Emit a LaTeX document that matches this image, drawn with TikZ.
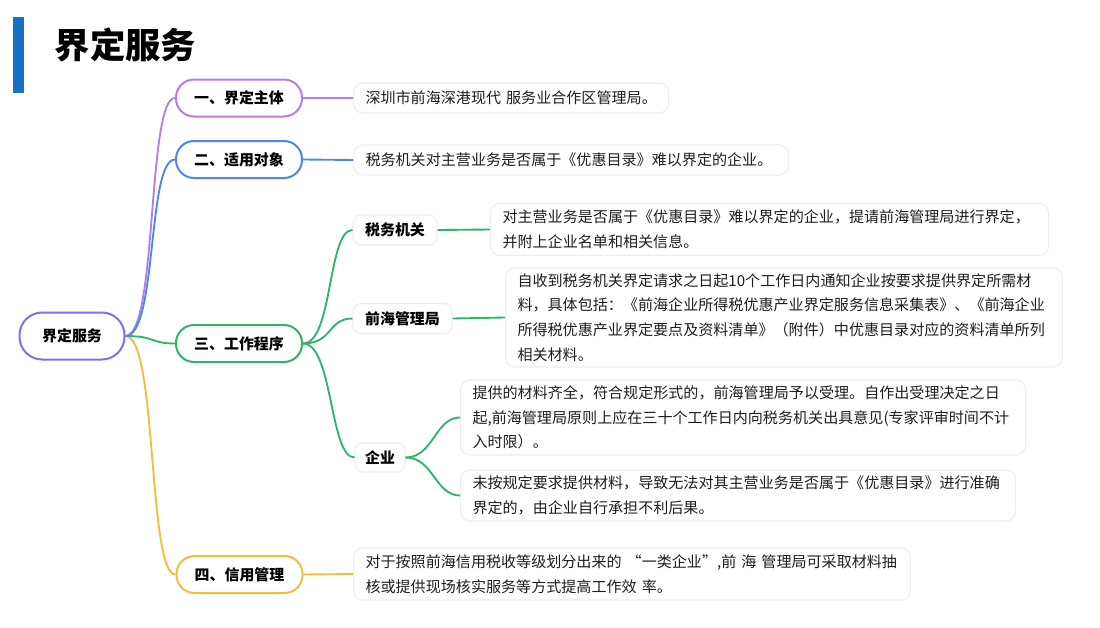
\documentclass[tikz,border=0pt]{standalone}
\usepackage{fontspec}
\setmainfont{Noto Sans CJK SC}
\usepackage{tikz}
\usepackage{xcolor}
\usetikzlibrary{positioning, calc}
\definecolor{rootcol}{RGB}{124,114,238}
\definecolor{subjcol}{RGB}{181,124,235}
\definecolor{objcol}{RGB}{79,134,238}
\definecolor{proccol}{RGB}{50,179,108}
\definecolor{credcol}{RGB}{242,191,60}
\definecolor{barcol}{RGB}{21,112,198}
\definecolor{desctext}{RGB}{30,30,30}
\tikzset{
  nodefont/.style={font=\fontsize{11.2}{14}\selectfont\bfseries},
  rootnode/.style={draw=rootcol,line width=1.5pt,rounded corners=17pt,fill=white,
    minimum width=78.75pt,minimum height=35.25pt,inner sep=0pt,nodefont},
  branchnode/.style={draw=#1,line width=1.5pt,rounded corners=13.5pt,fill=white,
    minimum width=94.5pt,minimum height=27.75pt,inner sep=0pt,nodefont},
  subnode/.style={draw=black!7,line width=0.8pt,rounded corners=6pt,fill=white,
    minimum height=22.5pt,inner sep=0pt,nodefont},
  descnode/.style={draw=black!7,line width=0.8pt,rounded corners=7pt,fill=white,
    anchor=west,align=left,inner xsep=9pt,inner ysep=0pt,text=desctext,
    font=\fontsize{11.3}{18.5}\selectfont},
  linkedge/.style={line width=1.4pt,draw=#1},
}

\begin{document}
\begin{tikzpicture}[x=0.75pt,y=-0.75pt]
  \useasboundingbox (0,0) rectangle (1100,628);
  \fill[barcol] (13,17) rectangle (24,93);
  \node[anchor=west,font=\fontsize{26.5}{30}\selectfont\bfseries] (title) at (50,45) {界定服务};

  \node[rootnode] (root) at (72,336) {界定服务};
  \node[branchnode=subjcol] (subj) at (239,98)    {一、界定主体};
  \node[branchnode=objcol]  (obj)  at (239,159.5) {二、适用对象};
  \node[branchnode=proccol] (proc) at (239,343.5) {三、工作程序};
  \node[branchnode=credcol] (cred) at (239.5,574.5) {四、信用管理};

  \node[subnode,minimum width=63pt]    (tax)   at (395,230)   {税务机关};
  \node[subnode,minimum width=74.25pt] (admin) at (402.5,318.5) {前海管理局};
  \node[subnode,minimum width=37.5pt,minimum height=21.75pt] (firm) at (380,457.5) {企业};

  \node[descnode,text width=218.25pt,minimum height=22.5pt] (subjtxt) at (353,98)
    {深圳市前海深港现代~服务业合作区管理局。};
  \node[descnode,text width=308.25pt,minimum height=22.5pt] (objtxt) at (353,160)
    {税务机关对主营业务是否属于《优惠目录》难以界定的企业。};
  \node[descnode,text width=400.5pt,minimum height=39pt] (taxtxt) at (490,229.5)
    {对主营业务是否属于《优惠目录》难以界定的企业，提请前海管理局进行界定，\\
     并附上企业名单和相关信息。};
  \node[descnode,text width=399.75pt,minimum height=74.25pt] (admintxt) at (505,317.5)
    {自收到税务机关界定请求之日起10个工作日内通知企业按要求提供界定所需材\\
     料，具体包括：《前海企业所得税优惠产业界定服务信息采集表》、《前海企业\\
     所得税优惠产业界定要点及资料清单》（附件）中优惠目录对应的资料清单所列\\
     相关材料。};
  \node[descnode,text width=405.75pt,minimum height=56.25pt] (firmtxtA) at (460,417.5)
    {提供的材料齐全，符合规定形式的，前海管理局予以受理。自作出受理决定之日\\
     起,前海管理局原则上应在三十个工作日内向税务机关出具意见(专家评审时间不计\\
     入时限）。};
  \node[descnode,text width=398.25pt,minimum height=38.25pt] (firmtxtB) at (460,495.5)
    {未按规定要求提供材料，导致无法对其主营业务是否属于《优惠目录》进行准确\\
     界定的，由企业自行承担不利后果。};
  \node[descnode,text width=399.75pt,minimum height=39pt] (credtxt) at (353,574)
    {对于按照前海信用税收等级划分出来的~“一类企业”,前~海~管理局可采取材料抽\\
     核或提供现场核实服务等方式提高工作效~率。};

  \draw[linkedge=credcol] (root.east) .. controls +(32,0) and +(-28,0) .. (cred.west);
  \draw[linkedge=proccol] (root.east) .. controls +(30,0) and +(-25,0) .. (proc.west);
  \draw[linkedge=subjcol] (root.east) .. controls +(32,0) and +(-28,0) .. (subj.west);
  \draw[linkedge=objcol]  (root.east) .. controls +(32,0) and +(-28,0) .. (obj.west);
  \draw[linkedge=subjcol] (subj.east) -- (subjtxt.west);
  \draw[linkedge=objcol]  (obj.east) -- (objtxt.west);
  \draw[linkedge=credcol] (cred.east) -- (credtxt.west);
  \draw[linkedge=proccol] (proc.east) .. controls +(30,0) and +(-25,0) .. (tax.west);
  \draw[linkedge=proccol] (proc.east) .. controls +(30,0) and +(-25,0) .. (admin.west);
  \draw[linkedge=proccol] (proc.east) .. controls +(30,0) and +(-25,0) .. (firm.west);
  \draw[linkedge=proccol] (tax.east) -- (taxtxt.west);
  \draw[linkedge=proccol] (admin.east) -- (admintxt.west);
  \draw[linkedge=proccol] (firm.east) .. controls +(28,0) and +(-25,0) .. (firmtxtA.west);
  \draw[linkedge=proccol] (firm.east) .. controls +(28,0) and +(-25,0) .. (firmtxtB.west);
\end{tikzpicture}
\end{document}
